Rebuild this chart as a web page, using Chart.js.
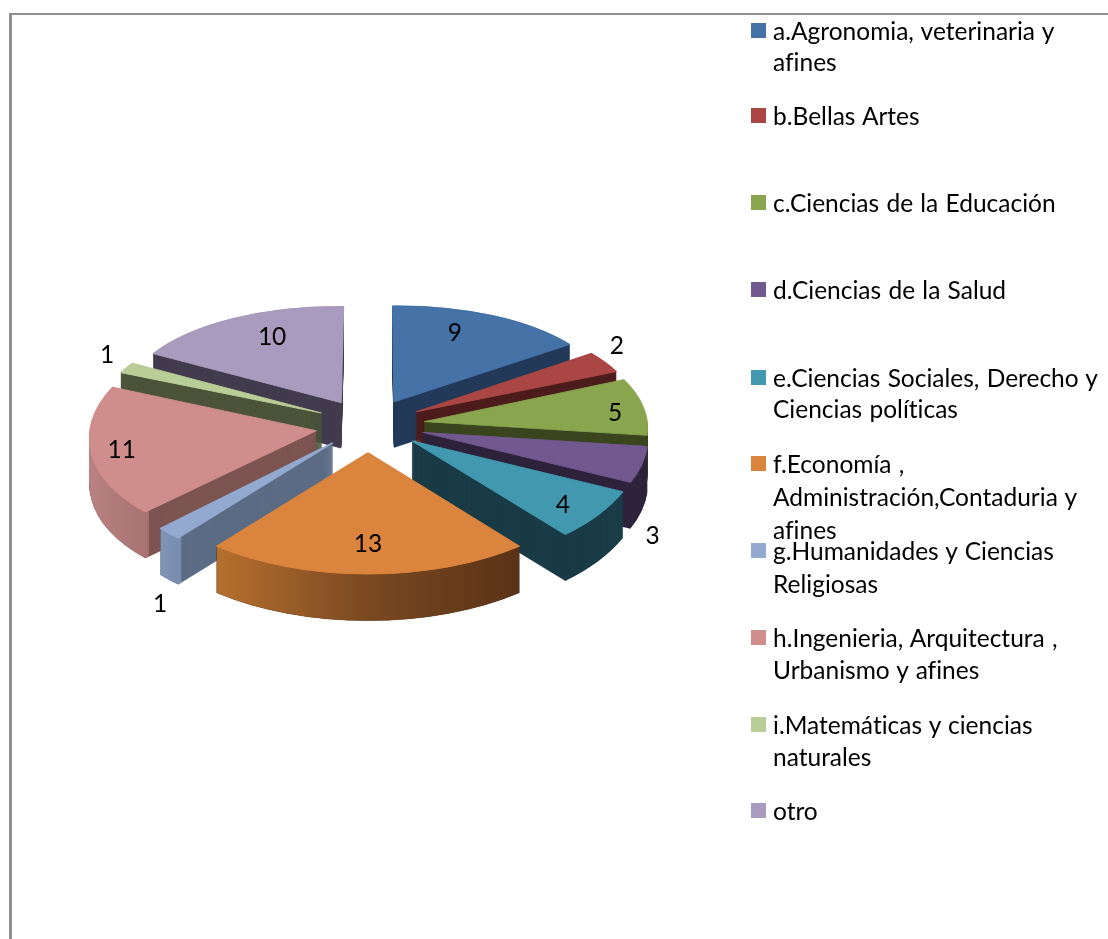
<!DOCTYPE html>
<html><head><meta charset="utf-8">
<script src="https://cdn.jsdelivr.net/npm/chart.js@4/dist/chart.umd.js"></script>
<style>
html,body{margin:0;padding:0;background:#fff;overflow:hidden}
#wrap{position:relative;width:1108px;height:939px;overflow:hidden}
#frame{position:absolute;left:9px;top:13px;width:1099px;height:926px;border-top:2px solid #8f8f8f;border-left:3px solid #8f8f8f;box-sizing:border-box}
canvas{position:absolute;left:0;top:0}
.sw{position:absolute;left:751px;width:15px;height:15px}
.lg{position:absolute;left:773px;white-space:nowrap;font:24.5px/33px Lato,sans-serif;word-spacing:1px;font-variant-ligatures:none;color:#000}
</style></head><body>
<div id="wrap"><div id="frame"></div><canvas id="c" width="1108" height="939"></canvas></div>
<script>
const categories=["a.Agronomia, veterinaria y afines","b.Bellas Artes","c.Ciencias de la Educación","d.Ciencias de la Salud","e.Ciencias Sociales, Derecho y Ciencias políticas","f.Economía , Administración,Contaduria y afines","g.Humanidades y Ciencias Religiosas","h.Ingenieria, Arquitectura , Urbanismo y afines","i.Matemáticas y ciencias naturales","otro"];
const values=[9,2,5,3,4,13,1,11,1,10];
const legendLines=[["a.Agronomia, veterinaria y","afines"],["b.Bellas Artes"],["c.Ciencias de la Educación"],["d.Ciencias de la Salud"],["e.Ciencias Sociales, Derecho y","Ciencias políticas"],["f.Economía ,","Administración,Contaduria y","afines"],["g.Humanidades y Ciencias","Religiosas"],["h.Ingenieria, Arquitectura ,","Urbanismo y afines"],["i.Matemáticas y ciencias","naturales"],["otro"]];
const topColors=["#4572A7","#AA4643","#89A54E","#71588F","#4198AF","#DB843D","#93A9CF","#CF8E8C","#B9CD96","#A99BBD"];
const wallColors=["#243B5A","#4D1E1D","#3B4620","#2E243C","#1A3C47","#5A3317","#5C6C85","#7D5553","#4C553A","#443C4F"];
const rimColors=[null,null,null,null,null,["#B5702F","#7A4820","#593317"],["#8094B6","#7A8DAE"],["#B98181","#A87372"],null,null];
const legendY=[31,116,203,290,378,464,551,638,725,811];
const legendLineGap=[31,0,0,0,31,33,33,32,32,0];
const labelAngle=[-65.8,-33.5,-5.2,37.5,39.4,90,121.4,168,209.1,242.5];
const labelRho=[0.989,1.383,1.109,1.519,1.081,0.984,1.648,1.105,1.377,0.968];
const sliceShiftX=[2.5,2.5,3,3.5,4,0,-2,-2,0,0];
const apexShiftX=[0,0.5,2,1.5,-1,0,2,1,0,-1];
const apexShiftY=[0,0,1,1,1,3,0,2,0,0];

const V={cx:368,cy:424,A:225,kx:0.054,B:110,k:0.1,E:0.23,depth:46};
function project(u,v){return [V.cx+V.A*u*(1+V.kx*v),V.cy+V.B*v/(1-V.k*v)];}

function sliceMatrix(arc,i){
  const s=arc.startAngle,e=arc.endAngle,m=(s+e)/2,R=arc.outerRadius;
  const ou=V.E*Math.cos(m),ov=V.E*Math.sin(m);
  const p0=project(ou,ov),p1=project(ou+Math.cos(s),ov+Math.sin(s)),p2=project(ou+Math.cos(e),ov+Math.sin(e));
  p0[0]+=sliceShiftX[i]+apexShiftX[i];p0[1]+=apexShiftY[i];p1[0]+=sliceShiftX[i];p2[0]+=sliceShiftX[i];
  const x1=R*Math.cos(s),y1=R*Math.sin(s),x2=R*Math.cos(e),y2=R*Math.sin(e),det=x1*y2-x2*y1;
  const dx1=p1[0]-p0[0],dy1=p1[1]-p0[1],dx2=p2[0]-p0[0],dy2=p2[1]-p0[1];
  const a=(dx1*y2-dx2*y1)/det,c=(x1*dx2-x2*dx1)/det,b=(dy1*y2-dy2*y1)/det,d=(x1*dy2-x2*dy1)/det;
  return {a,b,c,d,e:p0[0]-(a*arc.x+c*arc.y),f:p0[1]-(b*arc.x+d*arc.y),v:ov};
}
function paint(ctx,arc,M,dy,fill,ring,edge){
  const o=arc.options,ir=arc.innerRadius;
  arc.options=Object.assign({},o,{backgroundColor:fill,borderWidth:edge||0,borderColor:fill,offset:0});
  if(ring)arc.innerRadius=arc.outerRadius-ring;
  ctx.save();ctx.translate(0,dy);ctx.transform(M.a,M.b,M.c,M.d,M.e,M.f);
  arc.draw(ctx);ctx.restore();
  arc.options=o;arc.innerRadius=ir;
}
function rimFill(ctx,arc,stops){
  const s=arc.startAngle,e=arc.endAngle,R=arc.outerRadius;
  const sx=[arc.x+R*Math.cos(s),arc.x+R*Math.cos(e),arc.x+R*Math.cos((s+e)/2)];
  const y=arc.y+R*Math.sin((s+e)/2);
  const x0=Math.min(...sx),x1=Math.max(...sx);
  const g=ctx.createLinearGradient(x0,y,x1,y);
  stops.forEach((c,i)=>g.addColorStop(i/(stops.length-1),c));
  return g;
}
const pie3d={id:'pie3d',
  beforeDatasetDraw(chart,args){
    const ctx=chart.ctx,arcs=args.meta.data.slice();
    const items=arcs.map((arc,i)=>({arc,i,M:sliceMatrix(arc,i),s:Math.sin((arc.startAngle+arc.endAngle)/2)})).sort((p,q)=>p.s-q.s);
    items.forEach(({arc,i,M})=>{
      const depth=V.depth*(1+0.05*M.v);
      for(let t=depth;t>=0.5;t-=0.5)paint(ctx,arc,M,t,wallColors[i],0,1);
      if(rimColors[i]){
        const f=rimFill(ctx,arc,rimColors[i]);
        for(let t=depth;t>=0;t-=0.5)paint(ctx,arc,M,t,f,10);
      }
      paint(ctx,arc,M,0,topColors[i],0,3.5);
    });
    ctx.save();
    ctx.font='24.5px Lato, sans-serif';ctx.fillStyle='#000';ctx.textAlign='center';ctx.textBaseline='middle';
    values.forEach((val,i)=>{
      const th=labelAngle[i]*Math.PI/180,p=project(labelRho[i]*Math.cos(th),labelRho[i]*Math.sin(th));
      ctx.fillText(String(val),p[0],p[1]);
    });
    ctx.restore();
    return false;
  }};
new Chart(document.getElementById('c'),{type:'pie',
  data:{labels:categories,datasets:[{data:values,backgroundColor:topColors,borderWidth:0}]},
  options:{responsive:false,animation:false,events:[],plugins:{legend:{display:false},tooltip:{enabled:false}}},
  plugins:[pie3d]});
const wrap=document.getElementById('wrap');
legendLines.forEach((lines,i)=>{
  const sw=document.createElement('div');sw.className='sw';sw.style.top=(legendY[i]-8)+'px';sw.style.background=topColors[i];wrap.appendChild(sw);
  lines.forEach((t,j)=>{
    const d=document.createElement('div');d.className='lg';d.textContent=t;
    d.style.top=(legendY[i]+j*legendLineGap[i]-17)+'px';wrap.appendChild(d);
  });
});
</script></body></html>
